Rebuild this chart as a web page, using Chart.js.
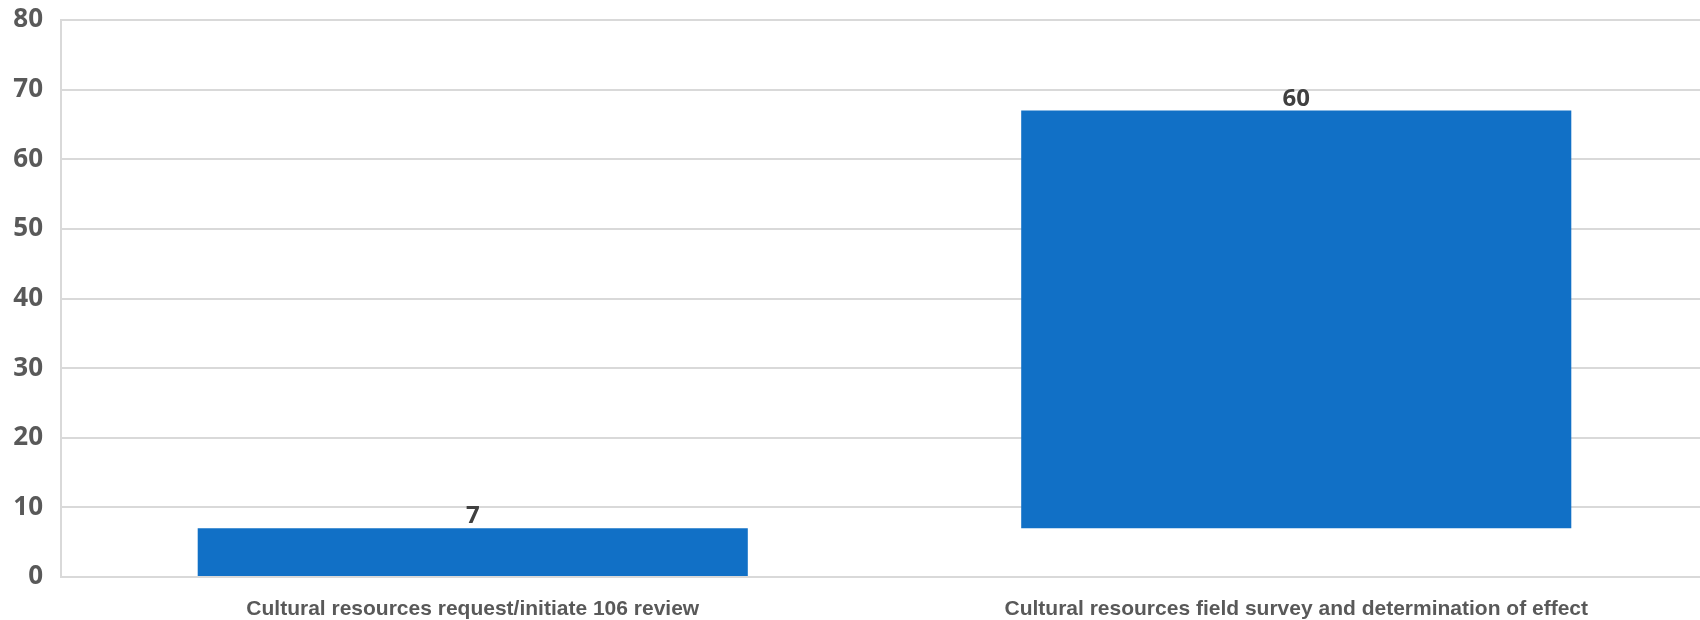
<!DOCTYPE html>
<html>
<head>
<meta charset="utf-8">
<script src="https://cdn.jsdelivr.net/npm/chart.js@4.4.1/dist/chart.umd.min.js"></script>
<style>
  html, body { margin: 0; padding: 0; background: #ffffff; overflow: hidden; }
  #wrap { width: 1708px; height: 620px; }
</style>
</head>
<body>
<div id="wrap"><canvas id="c" width="1708" height="620"></canvas></div>
<script>
const categories = [
  "Cultural resources request/initiate 106 review",
  "Cultural resources field survey and determination of effect"
];
const durations = [7, 60];
const yTicks = [0, 10, 20, 30, 40, 50, 60, 70, 80];

// waterfall: each step starts where the previous one ended
const starts = [];
let acc = 0;
for (const d of durations) { starts.push(acc); acc += d; }
const floating = durations.map((d, i) => [starts[i], starts[i] + d]);

const valueLabels = {
  id: 'valueLabels',
  afterDatasetsDraw(chart) {
    const ctx = chart.ctx;
    const meta = chart.getDatasetMeta(0);
    ctx.save();
    ctx.font = 'bold 24px "Open Sans"';
    ctx.fillStyle = '#404040';
    ctx.textAlign = 'center';
    ctx.textBaseline = 'alphabetic';
    meta.data.forEach((bar, i) => {
      ctx.fillText(String(durations[i]), bar.x, bar.y - 5);
    });
    ctx.restore();
  }
};

new Chart(document.getElementById('c'), {
  type: 'bar',
  data: {
    labels: categories,
    datasets: [{
      data: floating,
      backgroundColor: '#1170c6',
      borderWidth: 0,
      barPercentage: 0.668,
      categoryPercentage: 1.0
    }]
  },
  options: {
    responsive: false,
    animation: false,
    layout: { padding: { top: 0, right: 0, bottom: 0, left: 0 } },
    plugins: { legend: { display: false }, tooltip: { enabled: false } },
    scales: {
      x: {
        afterFit(scale) { scale.height = 43; },
        grid: { display: false, drawTicks: false },
        border: { display: true, color: '#d9d9d9', width: 2 },
        ticks: {
          color: '#595959',
          font: { family: '"Liberation Sans", Arial, sans-serif', size: 21, weight: 'bold' },
          padding: 19.5,
          maxRotation: 0,
          autoSkip: false
        }
      },
      y: {
        min: 0,
        max: 80,
        afterBuildTicks(scale) { scale.ticks = yTicks.map(v => ({ value: v })); },
        afterFit(scale) {
          scale.width = 61;
          scale.paddingTop = 20;
          scale.paddingBottom = 0;
        },
        grid: { color: '#d9d9d9', lineWidth: 2, drawTicks: false },
        border: { display: true, color: '#d9d9d9', width: 2 },
        ticks: {
          color: '#595959',
          font: { family: '"Open Sans", sans-serif', size: 26, weight: 'bold' },
          padding: 18
        }
      }
    }
  },
  plugins: [valueLabels]
});
</script>
</body>
</html>
